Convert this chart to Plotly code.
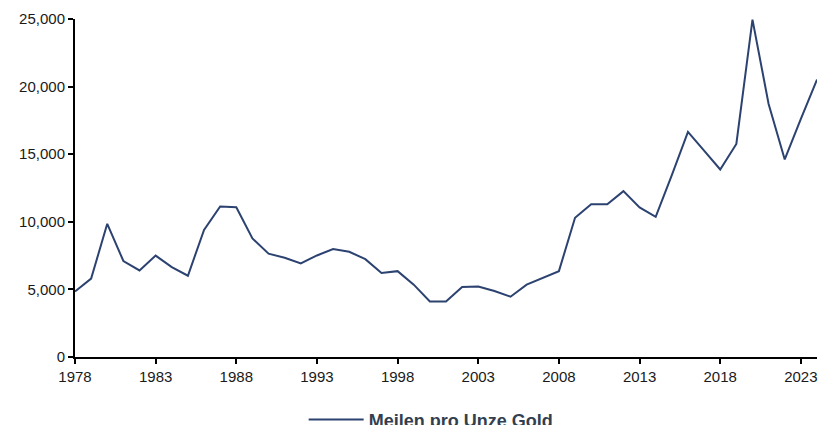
import plotly.graph_objects as go

# Jahre und Werte (Meilen pro Unze Gold)
jahre = list(range(1978, 2025))
meilen = [4850, 5800, 9850, 7100, 6400, 7500, 6650, 6010, 9400, 11130,
          11080, 8770, 7640, 7340, 6920, 7510, 7980, 7780, 7240, 6210,
          6350, 5350, 4110, 4110, 5170, 5220, 4880, 4460, 5350, 5860,
          6350, 10300, 11300, 11300, 12270, 11060, 10370, 13450, 16650, 15270,
          13870, 15760, 24950, 18720, 14610, 17610, 20520]

x_ticks = list(range(1978, 2024, 5))
y_ticks = [0, 5000, 10000, 15000, 20000, 25000]

fig = go.Figure()

fig.add_trace(go.Scatter(
    x=jahre,
    y=meilen,
    mode='lines',
    name='Meilen pro Unze Gold',
    line=dict(color='#2C4270', width=2)
))

fig.update_layout(
    width=819,
    height=425,
    template='plotly_white',
    plot_bgcolor='white',
    paper_bgcolor='white',
    margin=dict(l=75, r=2, t=19, b=68, autoexpand=False),
    font=dict(family='Liberation Sans, Arial, sans-serif', size=15, color='#1a1a1a'),
    showlegend=True,
    legend=dict(
        orientation='h',
        xanchor='center',
        x=0.48,
        yanchor='middle',
        y=-0.186,
        font=dict(size=18, color='#333F50', family='Liberation Sans, Arial, sans-serif', weight='bold'),
        itemwidth=55
    ),
    xaxis=dict(
        range=[1978, 2024],
        tickvals=x_ticks,
        ticktext=[str(t) for t in x_ticks],
        automargin=False,
        showgrid=False,
        zeroline=False,
        showline=True,
        linecolor='black',
        linewidth=2,
        ticks='outside',
        ticklen=5,
        tickwidth=2,
        tickcolor='black'
    ),
    yaxis=dict(
        range=[0, 25000],
        tickvals=y_ticks,
        tickformat=',d',
        automargin=False,
        showgrid=False,
        zeroline=False,
        showline=True,
        linecolor='black',
        linewidth=2,
        ticks='outside',
        ticklen=5,
        tickwidth=2,
        tickcolor='black'
    )
)

# Standard-Seitenrand des Browsers entfernen, keine Modebar
fig.write_html("out.html",
               config={'displayModeBar': False},
               post_script="document.body.style.margin='0';document.body.style.overflow='hidden';")
